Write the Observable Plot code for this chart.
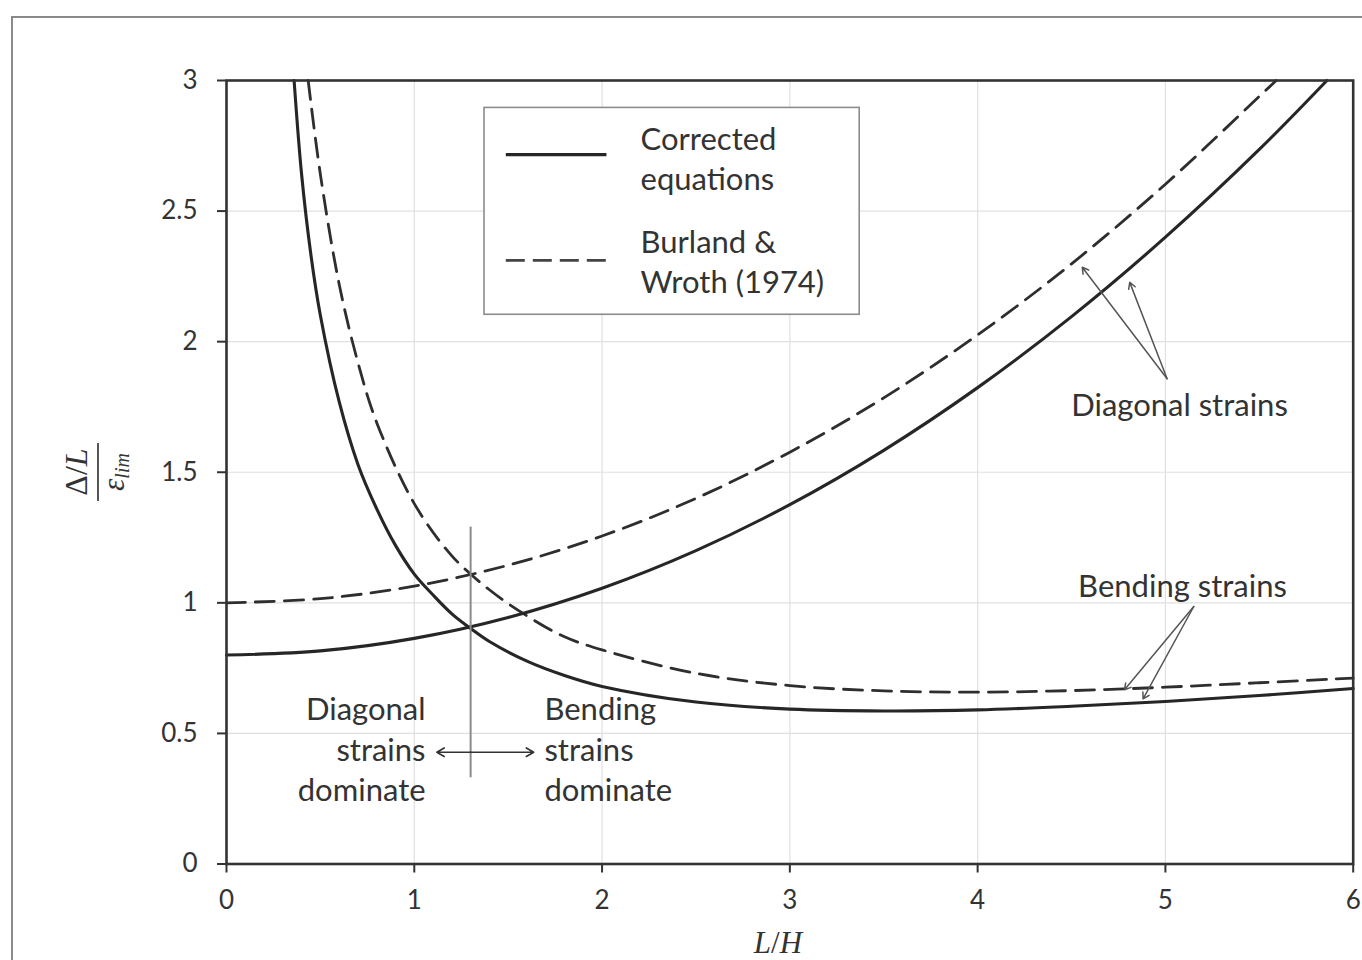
<!DOCTYPE html>
<html>
<head>
<meta charset="utf-8">
<script src="https://cdn.jsdelivr.net/npm/d3@7"></script>
<script src="https://cdn.jsdelivr.net/npm/@observablehq/plot@0.6"></script>
<style>
  html, body { margin: 0; padding: 0; background: #fff; overflow: hidden; }
  #page { position: relative; width: 1362px; height: 960px; overflow: hidden; }
  #outer { position: absolute; left: 11px; top: 16px; width: 1420px; height: 1020px; border: 2px solid #8a8a8a; box-sizing: border-box; }
  #chart { position: absolute; left: 0; top: 0; }
</style>
</head>
<body>
<div id="page">
  <div id="outer"></div>
  <div id="chart"></div>
</div>
<script>
// ---- data ----
const xTicks = [0, 1, 2, 3, 4, 5, 6];
const yTicks = [0, 0.5, 1, 1.5, 2, 2.5, 3];

// Corrected equations – diagonal strains (solid, rising)
const diagCorrX = [0, 0.5, 1, 1.5, 2, 2.5, 3, 3.5, 4, 4.5, 5, 5.5, 5.86];
const diagCorrY = [0.80, 0.816, 0.864, 0.944, 1.056, 1.20, 1.376, 1.584, 1.824, 2.096, 2.40, 2.736, 3.0];

// Burland & Wroth (1974) – diagonal strains (dashed, rising)
const diagBWX = [0, 0.5, 1, 1.5, 2, 2.5, 3, 3.5, 4, 4.5, 5, 5.5, 5.59];
const diagBWY = [1.0, 1.016, 1.064, 1.144, 1.256, 1.40, 1.577, 1.785, 2.026, 2.298, 2.603, 2.939, 3.0];

// Corrected equations – bending strains (solid, falling)
const bendCorrX = [0.36, 0.4, 0.45, 0.5, 0.6, 0.7, 0.8, 0.9, 1.0, 1.1, 1.2, 1.3, 1.4, 1.6, 1.8, 2.0, 2.5, 3.0, 3.5, 4.0, 4.5, 5.0, 5.5, 6.0];
const bendCorrY = [3.0, 2.64, 2.33, 2.1, 1.77, 1.53, 1.36, 1.22, 1.11, 1.03, 0.958, 0.902, 0.852, 0.777, 0.722, 0.68, 0.62, 0.593, 0.586, 0.59, 0.604, 0.622, 0.645, 0.672];

// Burland & Wroth (1974) – bending strains (dashed, falling)
const bendBWX = [0.435, 0.5, 0.6, 0.7, 0.8, 1.0, 1.2, 1.4, 1.6, 1.8, 2.0, 2.5, 3.0, 3.5, 4.0, 4.5, 5.0, 5.5, 6.0];
const bendBWY = [3.0, 2.64, 2.22, 1.92, 1.69, 1.38, 1.18, 1.05, 0.95, 0.87, 0.82, 0.73, 0.683, 0.663, 0.658, 0.664, 0.677, 0.694, 0.712];

const legendLabels = ["Corrected\nequations", "Burland &\nWroth (1974)"];
const annotationLabels = ["Diagonal strains", "Bending strains"];
const regionLabels = ["Diagonal\nstrains\ndominate", "Bending\nstrains\ndominate"];

// ---- build tables ----
const toRows = (xs, ys) => xs.map((x, i) => ({x, y: ys[i]}));
const diagCorr = toRows(diagCorrX, diagCorrY);
const diagBW = toRows(diagBWX, diagBWY);
const bendCorr = toRows(bendCorrX, bendCorrY);
const bendBW = toRows(bendBWX, bendBWY);

const ink = "#262626";
const txt = "#333";
const font = "Lato, 'Open Sans', sans-serif";
const dash = "19,10";
const fs = 31;

const chart = Plot.plot({
  width: 1362,
  height: 960,
  marginLeft: 226,
  marginRight: 9.3,
  marginTop: 80,
  marginBottom: 96.5,
  x: {domain: [0, 6]},
  y: {domain: [0, 3]},
  style: {fontFamily: font, fontSize: "26px", color: txt, background: "transparent", overflow: "visible"},
  marks: [
    Plot.gridX(xTicks, {stroke: "#e0e0e0", strokeOpacity: 1, strokeWidth: 1.2}),
    Plot.gridY(yTicks, {stroke: "#e0e0e0", strokeOpacity: 1, strokeWidth: 1.2}),

    // legend box
    Plot.rect([legendLabels], {x1: 1.374, x2: 3.372, y1: 2.103, y2: 2.895, fill: "white", stroke: "#8c8c8c", strokeWidth: 1.6}),
    Plot.ruleY([2.716], {x1: 1.49, x2: 2.026, stroke: ink, strokeWidth: 3.2}),
    Plot.ruleY([2.311], {x1: 1.49, x2: 2.026, stroke: "#444", strokeWidth: 2.8, strokeDasharray: "19,8"}),
    Plot.text(legendLabels, {x: 2.205, y: [2.705, 2.311], text: d => d, textAnchor: "start", lineAnchor: "middle",
      lineHeight: 1.27, fontSize: fs, fontFamily: font, fill: txt}),

    // curves
    Plot.line(diagBW, {x: "x", y: "y", curve: "catmull-rom", stroke: "#2e2e2e", strokeWidth: 2.8, strokeDasharray: dash}),
    Plot.line(bendBW, {x: "x", y: "y", curve: "catmull-rom", stroke: "#2e2e2e", strokeWidth: 2.8, strokeDasharray: dash}),
    Plot.line(diagCorr, {x: "x", y: "y", curve: "catmull-rom", stroke: ink, strokeWidth: 3.1}),
    Plot.line(bendCorr, {x: "x", y: "y", curve: "catmull-rom", stroke: ink, strokeWidth: 3.1}),

    // transition marker at L/H = 1.3
    Plot.ruleX([1.3], {y1: 0.33, y2: 1.29, stroke: "#8a8a8a", strokeWidth: 2}),
    Plot.arrow([0], {x1: 1.3, y1: 0.428, x2: 1.12, y2: 0.428, stroke: "#333", strokeWidth: 1.6, headLength: 8}),
    Plot.arrow([0], {x1: 1.3, y1: 0.428, x2: 1.636, y2: 0.428, stroke: "#333", strokeWidth: 1.6, headLength: 8}),

    // annotation leaders
    Plot.arrow([0, 1], {x1: 5.009, y1: 1.858, x2: [4.557, 4.81], y2: [2.285, 2.227], stroke: "#555", strokeWidth: 1.5, headLength: 7}),
    Plot.arrow([0, 1], {x1: 5.151, y1: 0.986, x2: [4.782, 4.881], y2: [0.667, 0.632], stroke: "#555", strokeWidth: 1.5, headLength: 7}),

    // annotation text
    Plot.text(annotationLabels, {x: [5.075, 5.091], y: [1.753, 1.061], text: d => d, textAnchor: "middle", lineAnchor: "middle",
      fontSize: fs, fontFamily: font, fill: txt}),
    Plot.text([regionLabels[0]], {x: 1.06, y: 0.445, text: d => d, textAnchor: "end", lineAnchor: "middle",
      lineHeight: 1.31, fontSize: fs, fontFamily: font, fill: txt}),
    Plot.text([regionLabels[1]], {x: 1.693, y: 0.445, text: d => d, textAnchor: "start", lineAnchor: "middle",
      lineHeight: 1.31, fontSize: fs, fontFamily: font, fill: txt}),

    // axes and frame
    Plot.axisX(xTicks, {tickSize: 9, tickPadding: 18, fontSize: 26, tickFormat: d => String(d), stroke: "#333", strokeWidth: 2, label: null, fill: txt}),
    Plot.axisY(yTicks, {tickSize: 9, tickPadding: 20, fontSize: 26, tickFormat: d => String(d), stroke: "#333", strokeWidth: 2, label: null, fill: txt}),
    Plot.frame({stroke: "#333", strokeWidth: 2.6})
  ]
});

document.getElementById("chart").appendChild(chart);

// axis titles (math-style)
const svg = d3.select(chart);
const serif = "'Liberation Serif', 'DejaVu Serif', serif";
const yl = svg.append("g").attr("transform", "translate(98,472) rotate(-90)")
  .attr("font-family", serif).attr("fill", "#333");
const num = yl.append("text").attr("text-anchor", "middle").attr("y", -11).attr("font-size", 32);
num.append("tspan").text("Δ");
num.append("tspan").text("/");
num.append("tspan").attr("font-style", "italic").text("L");
yl.append("line").attr("x1", -29).attr("x2", 29).attr("y1", 0).attr("y2", 0).attr("stroke", "#555").attr("stroke-width", 2);
const den = yl.append("text").attr("text-anchor", "middle").attr("y", 26).attr("font-size", 31).attr("font-style", "italic");
den.append("tspan").text("ε");
den.append("tspan").attr("font-size", 20).attr("dy", 5).text("lim");

const xl = svg.append("text").attr("x", 778).attr("y", 953).attr("text-anchor", "middle")
  .attr("font-family", serif).attr("font-size", 31).attr("fill", "#333");
xl.append("tspan").attr("font-style", "italic").text("L");
xl.append("tspan").text("/");
xl.append("tspan").attr("font-style", "italic").text("H");
</script>
</body>
</html>
